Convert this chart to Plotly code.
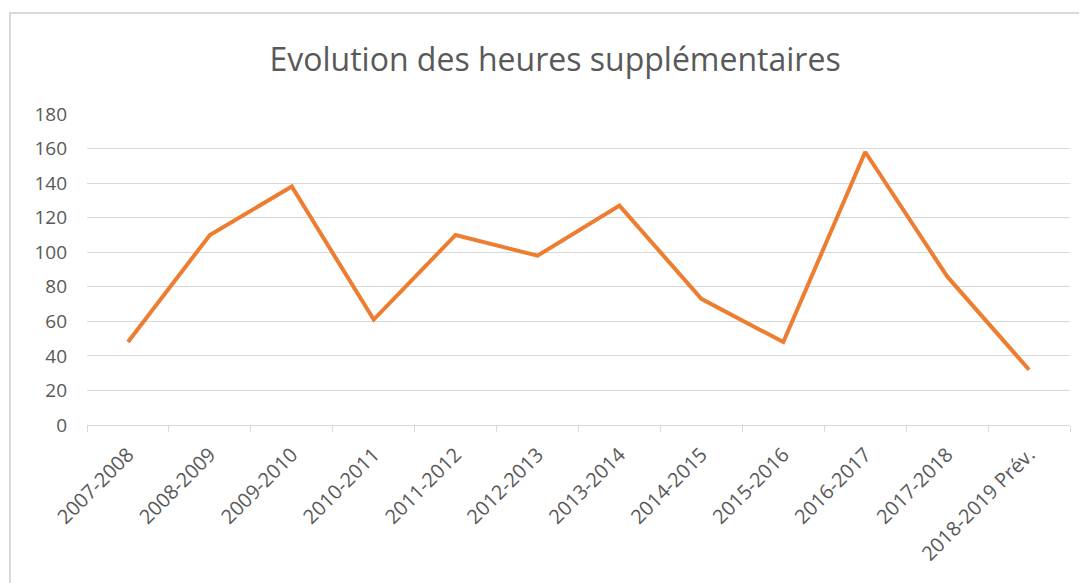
import plotly.graph_objects as go

# ===== DATA =====
saisons = ["2007-2008", "2008-2009", "2009-2010", "2010-2011", "2011-2012",
           "2012-2013", "2013-2014", "2014-2015", "2015-2016", "2016-2017",
           "2017-2018", "2018-2019 Prév."]
heures = [48, 110, 138, 61, 110, 98, 127, 73, 48, 158, 86, 32]
y_ticks = [0, 20, 40, 60, 80, 100, 120, 140, 160, 180]

main_font = '"Open Sans", "Noto Sans", sans-serif'
grey_txt = "#595959"
grid_col = "#D9D9D9"

fig = go.Figure()
fig.add_trace(go.Scatter(x=saisons, y=heures, mode="lines",
                         line=dict(color="#ED7D31", width=4),
                         showlegend=False, hoverinfo="x+y"))

# page body adds an 8px offset, so the figure is 8px smaller than the window
fig.update_layout(
    width=1079, height=575,
    margin=dict(l=79, r=17, t=106, b=158),
    paper_bgcolor="white", plot_bgcolor="white",
    font=dict(family=main_font, color=grey_txt, size=18),
    title=dict(text="Evolution des heures supplémentaires",
               x=0.507, xanchor="center", y=0.91, yanchor="middle",
               font=dict(size=32, color=grey_txt)),
)

fig.update_xaxes(type="category", range=[-0.5, 11.5], tickangle=-45,
                 showgrid=False, showline=True, linecolor=grid_col,
                 linewidth=1, ticks="outside", tickson="boundaries",
                 ticklen=6, tickcolor=grid_col, ticklabelstandoff=9,
                 tickfont=dict(size=20, color=grey_txt))
fig.update_yaxes(range=[0, 180], tickvals=y_ticks, showgrid=True,
                 gridcolor=grid_col, gridwidth=1, zeroline=False,
                 showline=False, ticks="", ticklabelstandoff=19,
                 tickfont=dict(size=19, color=grey_txt))

# Chart frame (partially cropped in the reference)
fig.add_shape(type="rect", xref="paper", yref="paper",
              x0=-0.0783, x1=1.2, y0=-1.0, y1=1.3248,
              line=dict(color="#D9D9D9", width=2), layer="below")

fig.write_html("out.html")
